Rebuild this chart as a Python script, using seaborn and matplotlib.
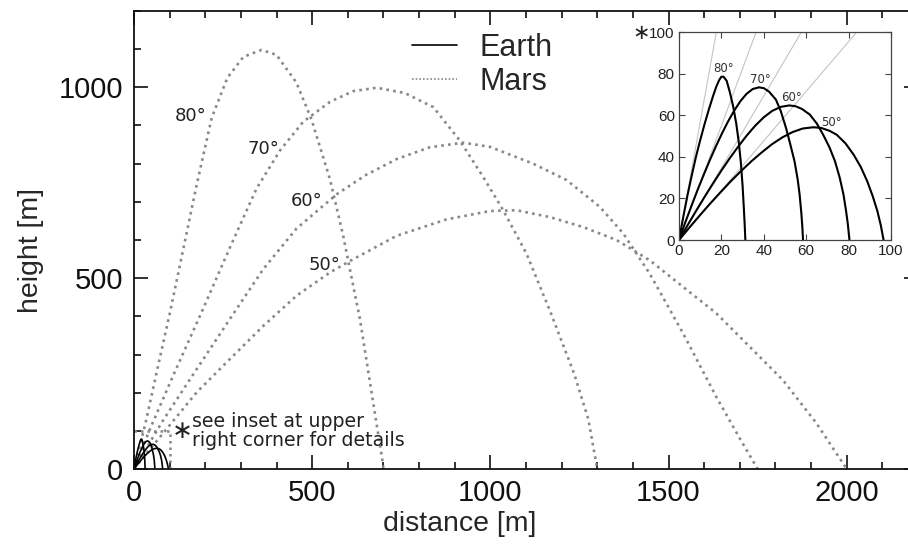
import numpy as np
import pandas as pd
import matplotlib
matplotlib.use("Agg")
import matplotlib.pyplot as plt
from matplotlib.lines import Line2D
from matplotlib.ticker import MultipleLocator
import seaborn as sns

# ---------------- data ----------------
angles = [80, 70, 60, 50]

# Earth trajectories (inset scale, metres)
earth_x_80 = [0, 2, 4, 6, 8, 10, 12, 14, 16, 17.5, 19, 20, 21, 22.5, 24, 25.6, 27, 28.2, 29.2, 30, 30.6, 31, 31.3]
earth_y_80 = [0, 11, 21.5, 31, 40, 48, 55.5, 62.5, 69, 73.5, 77, 78.5, 78.5, 76.5, 71, 64, 56, 47, 37, 26, 15, 7, 0]
earth_x_70 = [0, 2.9, 5.8, 8.7, 11.6, 14.5, 17.4, 20.3, 23.2, 26.1, 29, 31.9, 34.8, 37.7, 40, 42.5, 45.7, 48, 50.5, 52.5, 54.5, 56, 56.9, 57.7, 58.2, 58.5]
earth_y_70 = [0, 8.3, 16.2, 23.9, 31.2, 38.3, 45.0, 51.3, 57.1, 62.3, 66.8, 70.3, 72.6, 73.4, 73, 71.3, 67.5, 62, 53.8, 46, 37.8, 29, 21.8, 13, 6, 0]
earth_x_60 = [0, 4, 8, 12, 16, 20, 24, 28, 32, 36, 40, 44, 48, 52, 55, 58, 61.7, 65, 68, 71, 73.6, 75.8, 77.6, 78.8, 79.6, 80.1, 80.4]
earth_y_60 = [0, 7.0, 13.9, 20.6, 27.1, 33.4, 39.4, 45.0, 50.3, 55.0, 59.0, 62.1, 64.0, 64.7, 64.3, 63, 60.3, 56, 50.6, 44.5, 37.8, 30, 21.8, 14, 8, 3, 0]
earth_x_50 = [0, 4.87, 9.74, 14.6, 19.5, 24.3, 29.2, 34.1, 39, 43.8, 48.7, 53.6, 58.4, 63.3, 67, 71, 74.4, 78.5, 82.4, 85.8, 88.8, 91.4, 93.6, 95.2, 96.5]
earth_y_50 = [0, 5.95, 11.75, 17.4, 22.85, 28.1, 33.1, 37.8, 42.1, 46.0, 49.3, 51.9, 53.6, 54.2, 53.9, 52.5, 50.6, 46.5, 41, 35, 28.2, 21, 13.8, 7, 0]

# Mars trajectories (main scale, metres)
mars_x_80 = [0, 31, 64, 101, 138, 176, 218, 262, 307, 358, 400, 456, 498, 550, 587, 634, 671, 695, 700]
mars_y_80 = [0, 115, 255, 410, 575, 745, 920, 1025, 1080, 1098, 1085, 1012, 916, 759, 611, 393, 175, 35, 0]
mars_x_70 = [0, 45, 110, 194, 269, 344, 410, 475, 550, 615, 681, 760, 840, 914, 980, 1036, 1101, 1167, 1235, 1275, 1300]
mars_y_70 = [0, 105, 245, 420, 580, 735, 835, 910, 962, 990, 999, 985, 948, 861, 765, 678, 565, 415, 250, 130, 0]
mars_x_60 = [0, 80, 157, 269, 363, 456, 569, 650, 737, 830, 924, 999, 1120, 1214, 1307, 1373, 1447, 1541, 1634, 1700, 1750]
mars_y_60 = [0, 125, 235, 393, 524, 630, 720, 770, 812, 843, 855, 844, 800, 757, 687, 617, 512, 355, 189, 80, 0]
mars_x_50 = [0, 45, 176, 269, 363, 456, 550, 606, 737, 877, 999, 1073, 1167, 1260, 1354, 1447, 1541, 1634, 1728, 1821, 1915, 2000]
mars_y_50 = [0, 52, 201, 288, 375, 454, 515, 545, 611, 654, 676, 678, 660, 634, 600, 547, 477, 408, 320, 233, 120, 0]

# label positions (data coords)
main_label_x = [160, 363, 484, 534]
main_label_y = [925, 839, 701, 534]
inset_label_x = [20.9, 38.2, 53.2, 72]
inset_label_y = [82.4, 77.1, 68.3, 56.6]
inset_limit = 100

earth_x = [earth_x_80, earth_x_70, earth_x_60, earth_x_50]
earth_y = [earth_y_80, earth_y_70, earth_y_60, earth_y_50]
mars_x = [mars_x_80, mars_x_70, mars_x_60, mars_x_50]
mars_y = [mars_y_80, mars_y_70, mars_y_60, mars_y_50]

# ---------------- style ----------------
sns.set_theme(style="ticks")
plt.rcParams["font.family"] = ["Liberation Sans", "DejaVu Sans"]
plt.rcParams["axes.edgecolor"] = "#111111"
plt.rcParams["axes.linewidth"] = 1.3

W, H = 908, 545
fig = plt.figure(figsize=(W / 100, H / 100), dpi=100)
fig.patch.set_facecolor("white")

def fx(px):
    return px / W

def fy(py):
    return 1 - py / H

# main axes (right spine lies just outside the figure)
ax = fig.add_axes([fx(134), fy(469), fx(918) - fx(134), fy(11) - fy(469)])
ax.set_facecolor("white")

mars_color = "#888888"
for xs, ys in zip(mars_x, mars_y):
    sns.lineplot(x=xs, y=ys, sort=False, estimator=None, ax=ax,
                 color=mars_color, linestyle=(0, (1, 1.6)), linewidth=1.9)
for xs, ys in zip(earth_x, earth_y):
    sns.lineplot(x=xs, y=ys, sort=False, estimator=None, ax=ax,
                 color="black", linewidth=1.2)
# dotted box marking the inset region
sns.lineplot(x=[0, inset_limit, inset_limit], y=[inset_limit, inset_limit, 0],
             sort=False, estimator=None, ax=ax, color=mars_color,
             linestyle=(0, (1, 1.6)), linewidth=1.8)

ax.set_xlim(0, 2200)
ax.set_ylim(0, 1200)
ax.xaxis.set_major_locator(MultipleLocator(500))
ax.xaxis.set_minor_locator(MultipleLocator(100))
ax.yaxis.set_major_locator(MultipleLocator(500))
ax.yaxis.set_minor_locator(MultipleLocator(100))
ax.tick_params(which="both", direction="in", top=True, right=True,
               colors="#111111", width=1.2)
ax.tick_params(which="major", length=10, labelsize=21)
ax.tick_params(which="minor", length=5)
ax.tick_params(axis="x", which="major", pad=7)
ax.tick_params(axis="y", which="major", pad=8)
for lab in ax.get_xticklabels() + ax.get_yticklabels():
    lab.set_fontfamily(["Liberation Sans", "DejaVu Sans"])

ax.set_xlabel("distance [m]", fontsize=20.5)
ax.set_ylabel("height [m]", fontsize=20.5)
ax.xaxis.set_label_coords(0.416, -0.092)
ax.yaxis.set_label_coords(-0.115, 0.478)

for a, lx, ly in zip(angles, main_label_x, main_label_y):
    ax.text(lx, ly, f"{a}°", fontsize=13, family="DejaVu Sans",
            color="#222222", ha="center", va="center")

ax.text(163, 99, "see inset at upper\nright corner for details", fontsize=13.6,
        family="DejaVu Sans", color="#222222", ha="left", va="center",
        linespacing=1.0)
fig.text(fx(182), fy(431), "∗", fontsize=18, family="DejaVu Sans",
         color="#222222", ha="center", va="center")

handles = [Line2D([], [], color="black", linewidth=1.2),
           Line2D([], [], color=mars_color, linewidth=1.2, linestyle=(0, (1, 1.2)))]
leg = fig.legend(handles, ["Earth", "Mars"], loc="upper left",
                 bbox_to_anchor=(fx(412), fy(33)), frameon=False,
                 fontsize=22, handlelength=1.47, handletextpad=0.75,
                 labelspacing=0.12, borderpad=0, borderaxespad=0)

# inset axes
axi = fig.add_axes([fx(679), fy(240), fx(891) - fx(679), fy(32) - fy(240)])
axi.set_facecolor("white")
for a in angles:
    t = np.tan(np.radians(a))
    sns.lineplot(x=[0, inset_limit / t], y=[0, inset_limit], sort=False,
                 estimator=None, ax=axi, color="#c4c4c4", linewidth=0.8)
for xs, ys in zip(earth_x, earth_y):
    sns.lineplot(x=xs, y=ys, sort=False, estimator=None, ax=axi,
                 color="black", linewidth=1.5)
axi.set_xlim(0, inset_limit)
axi.set_ylim(0, inset_limit)
axi.xaxis.set_major_locator(MultipleLocator(20))
axi.yaxis.set_major_locator(MultipleLocator(20))
axi.tick_params(which="both", direction="in", top=True, right=True,
                length=4, width=0.8, colors="#444444", labelcolor="#222222",
                labelsize=11, pad=3)
for s in axi.spines.values():
    s.set_linewidth(0.9)
    s.set_color("#444444")
for a, lx, ly in zip(angles, inset_label_x, inset_label_y):
    axi.text(lx, ly, f"{a}°", fontsize=8.5, family="DejaVu Sans",
             color="#333333", ha="center", va="center")
fig.text(fx(641), fy(33), "∗", fontsize=15, family="DejaVu Sans",
         color="#222222", ha="center", va="center")

fig.savefig("out.png", dpi=100)
